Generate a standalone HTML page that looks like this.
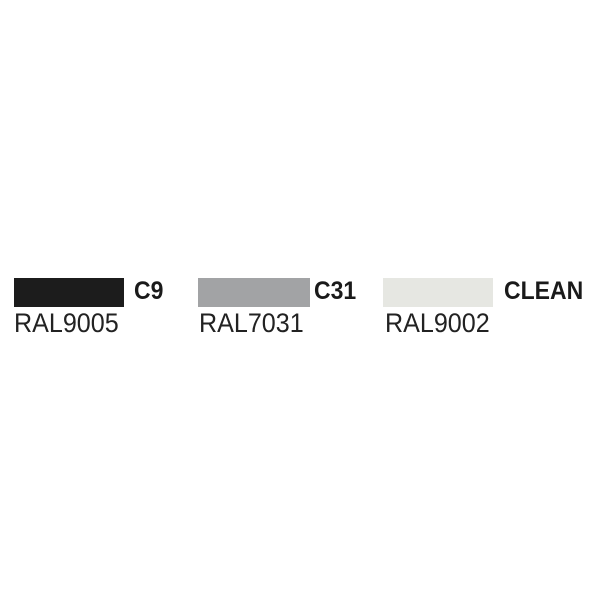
<!DOCTYPE html>
<html><head><style>
body{margin:0;width:600px;height:600px;background:#fff;position:relative;overflow:hidden;font-family:"Liberation Sans",sans-serif;}
.b{position:absolute;top:278px;height:29px;}
.t{position:absolute;top:277px;font-weight:bold;font-size:25px;line-height:29px;color:#1a1a1a;transform:scaleX(0.92);transform-origin:left top;}
.r{position:absolute;top:308px;font-size:27px;line-height:30px;color:#222;transform:scaleX(0.93);transform-origin:left top;}
</style></head><body>
<div class="b" style="left:14px;width:110px;background:#1c1c1c"></div>
<div class="t" style="left:134px">C9</div>
<div class="r" style="left:14px">RAL9005</div>
<div class="b" style="left:198px;width:112px;background:#a2a3a5"></div>
<div class="t" style="left:314px">C31</div>
<div class="r" style="left:199px">RAL7031</div>
<div class="b" style="left:383px;width:110px;background:#e6e7e2"></div>
<div class="t" style="left:504px">CLEAN</div>
<div class="r" style="left:385px">RAL9002</div>
</body></html>
